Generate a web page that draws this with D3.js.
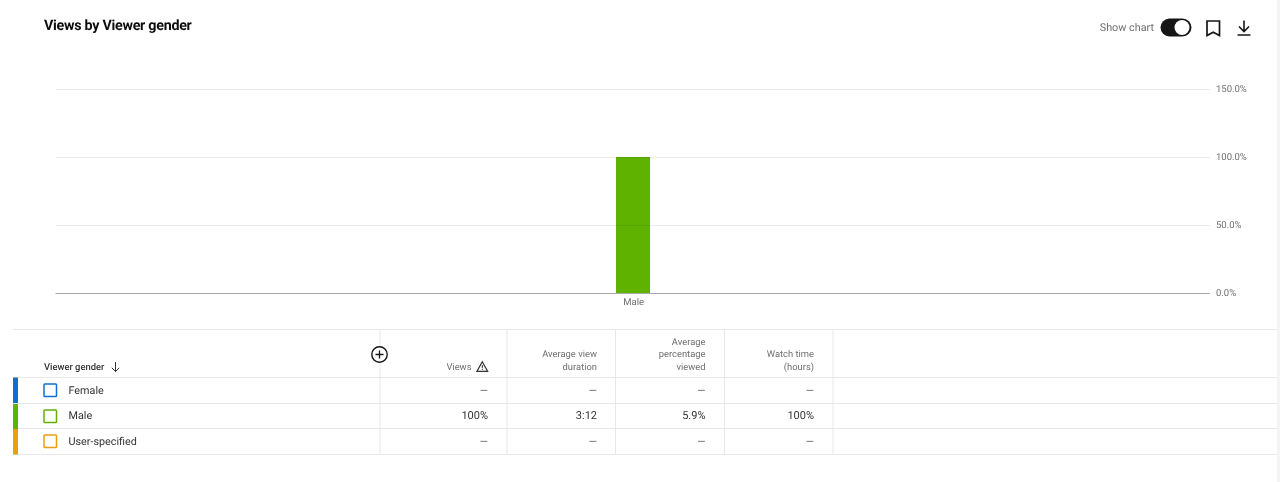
<!DOCTYPE html>
<html><head><meta charset="utf-8">
<script src="https://cdn.jsdelivr.net/npm/d3@7/dist/d3.min.js"></script>
<style>html,body{margin:0;padding:0;background:#fff;overflow:hidden}svg{display:block;will-change:transform}text{font-family:Roboto,sans-serif;text-rendering:geometricPrecision}</style>
</head><body><svg id="c" width="1280" height="482"></svg>
<script>
const title = "Views by Viewer gender";
const chartCategories = ["Male"];
const chartValues = [100];
const yTicks = [0, 50, 100, 150];
const rowLabels = ["Female", "Male", "User-specified"];
const rowColors = ["#0b72d3", "#5fb200", "#ef9c12"];
const colHeaders = [["Views"], ["Average view", "duration"], ["Average", "percentage", "viewed"], ["Watch time", "(hours)"]];
const viewsCol = ["—", "100%", "—"];
const durationCol = ["—", "3:12", "—"];
const percentCol = ["—", "5.9%", "—"];
const watchCol = ["—", "100%", "—"];

const svg = d3.select("#c");
const x = d3.scaleBand().domain(chartCategories).range([56, 1210]).paddingOuter(16.47).paddingInner(0);
const y = d3.scaleLinear().domain([0, 150]).range([293, 89]);

// right page edge
svg.append("rect").attr("x",1277).attr("y",0).attr("width",3).attr("height",482).attr("fill","#f4f4f6");

svg.append("text").attr("x",44).attr("y",30).attr("font-size",14.3).attr("font-weight",700).attr("fill","#0d0d0d").attr("letter-spacing",-0.28).text(title);

// toolbar
svg.append("text").attr("x",1154).attr("y",31).attr("text-anchor","end").attr("font-size",10.8).attr("fill","#6f6f6f").text("Show chart");
svg.append("rect").attr("x",1160.5).attr("y",18.5).attr("width",31).attr("height",18).attr("rx",9).attr("fill","#161616");
svg.append("circle").attr("cx",1182).attr("cy",27.5).attr("r",7.5).attr("fill","#fff");
svg.append("path").attr("d","M1207 21h12.5v14.5l-6.25-3.2-6.25 3.2z").attr("fill","none").attr("stroke","#161616").attr("stroke-width",1.7).attr("stroke-linejoin","miter");
svg.append("path").attr("d","M1244 20.5v10.5M1239 26.5l5 5 5-5M1237.5 35h13").attr("fill","none").attr("stroke","#161616").attr("stroke-width",1.6);

// bars
svg.append("g").selectAll("rect").data(chartCategories).join("rect")
  .attr("x", d=>x(d)).attr("width", x.bandwidth())
  .attr("y", (d,i)=>y(chartValues[i])).attr("height",(d,i)=>y(0)-y(chartValues[i]))
  .attr("fill","#60b200");

// y axis (grid + labels)
const yAxis = d3.axisRight(y).tickValues(yTicks).tickSize(1154.5).tickPadding(6).tickFormat(d=>d.toFixed(1)+"%");
const gy = svg.append("g").attr("transform","translate(55.5,0)").call(yAxis);
gy.select(".domain").remove();
gy.selectAll(".tick line").attr("stroke", d=>d===0?"#a9a9a9":"#000").attr("stroke-opacity", d=>d===0?1:0.08);
gy.selectAll(".tick text").attr("font-size",9.5).attr("fill","#6f6f6f").attr("font-family","Roboto,sans-serif").attr("y",-0.5);

// x axis labels
const xAxis = d3.axisBottom(x).tickSize(0).tickPadding(5);
const gx = svg.append("g").attr("transform","translate(0.7,293)").call(xAxis);
gx.select(".domain").remove();
gx.selectAll(".tick text").attr("font-size",9.5).attr("fill","#6f6f6f").attr("font-family","Roboto,sans-serif");

// table
const lineC = "#e8e8e8";
[329.5,377.5,403.5,428.5,454.5].forEach(v=>svg.append("line").attr("x1",13).attr("x2",1277).attr("y1",v).attr("y2",v).attr("stroke",lineC));
[380,507,615.5,724.5,833].forEach(v=>svg.append("line").attr("x1",v).attr("x2",v).attr("y1",329).attr("y2",454).attr("stroke",lineC));

const rowTops = [378,404,429], rowH = [25.5,25,25.5], rowBase = [394,419,445];
rowLabels.forEach((d,i)=>{
  svg.append("rect").attr("x",13).attr("y",rowTops[i]-(i?0:0.5)).attr("width",5).attr("height",rowH[i]).attr("fill",rowColors[i]);
  svg.append("rect").attr("x",44).attr("y",rowTops[i]+6).attr("width",12.5).attr("height",12.5).attr("rx",0.8).attr("fill","none").attr("stroke",rowColors[i]).attr("stroke-width",1.5);
  svg.append("text").attr("x",68.5).attr("y",rowBase[i]).attr("font-size",10.8).attr("fill","#333").text(d);
});

svg.append("text").attr("x",44).attr("y",370).attr("font-size",9.4).attr("font-weight",500).attr("fill","#333").text("Viewer gender");
svg.append("path").attr("d","M115.5 362v9.5M111.8 367.8l3.7 3.7 3.7-3.7").attr("fill","none").attr("stroke","#333").attr("stroke-width",1);

// add column icon
svg.append("circle").attr("cx",379.5).attr("cy",354.5).attr("r",7.7).attr("fill","#fff").attr("stroke","#161616").attr("stroke-width",1.4);
svg.append("path").attr("d","M375.5 354.5h8M379.5 350.5v8").attr("stroke","#161616").attr("stroke-width",1.3);

// header labels
const colRight = [471.5,597,705.5,814];
colHeaders.forEach((lines,c)=>{
  lines.forEach((t,j)=>{
    svg.append("text").attr("x",colRight[c]).attr("y",369.6-(lines.length-1-j)*12.4).attr("text-anchor","end").attr("font-size",9.4).attr("fill","#6f6f6f").text(t);
  });
});
// warning icon
svg.append("path").attr("d","M482.3 361.8l5.4 9.6h-10.8z").attr("fill","none").attr("stroke","#333").attr("stroke-width",1.2);
svg.append("path").attr("d","M482.3 365v3M482.3 368.7v1.2").attr("stroke","#333").attr("stroke-width",1);

// values
const cols = [viewsCol,durationCol,percentCol,watchCol];
const valRight = [488,597,705.5,814];
cols.forEach((col,c)=>col.forEach((v,i)=>{
  svg.append("text").attr("x",valRight[c]).attr("y",rowBase[i]).attr("text-anchor","end").attr("font-size",v==="—"?10.5:11).attr("fill",v==="—"?"#555":"#333").text(v);
}));
</script></body></html>
